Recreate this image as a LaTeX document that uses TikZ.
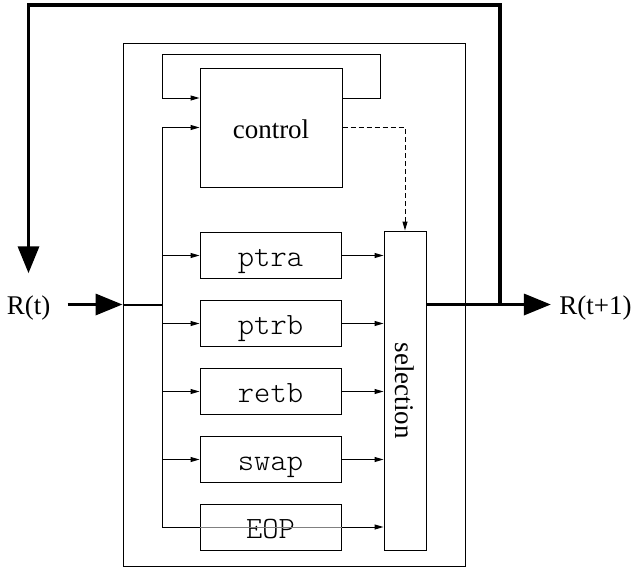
\documentclass[tikz,border=0pt]{standalone}
\usepackage{fontspec}
\setmainfont{Liberation Serif}
\setmonofont{Latin Modern Mono Light}
\usetikzlibrary{arrows.meta, positioning}

\begin{document}
\begin{tikzpicture}[x=1pt, y=-1pt, line width=1pt,
		every node/.style={font=\fontsize{27}{32}\selectfont},
		box/.style={draw, line width=1pt, inner sep=0pt},
		unit/.style={box, minimum width=141pt, minimum height=46pt, text height=22pt, text depth=0pt, font=\ttfamily\fontsize{31}{36}\selectfont},
		sarrow/.style={-{Triangle[length=9pt,width=5pt]}},
		big/.style={line width=3.5pt, -{Triangle[length=27pt,width=21pt]}}]
				\useasboundingbox (0,0) rectangle (637,570);

				\node[box, minimum width=342pt, minimum height=523pt] (outer) at (294,304.5) {};
				\node[box, minimum width=142pt, minimum height=119pt, text height=21pt, text depth=0pt] (ctrl) at (271,127.5) {control};

				\node[unit] (ptra) at (270.5,255.5) {ptra};
				\node[unit] (ptrb) at (270.5,323.5) {ptrb};
				\node[unit] (retb) at (270.5,391.5) {retb};
				\node[unit] (swap) at (270.5,459.5) {swap};
				\node[unit] (eop) at (270.5,527) {EOP};

				\node[box, minimum width=42pt, minimum height=319pt] (sel) at (405,390.5) {\rotatebox{-90}{selection}};

				\node[inner sep=0pt] (rt) at (28.5,308) {R(t)};
				\node[inner sep=0pt] (rt1) at (595.5,308) {R(t+1)};

				\coordinate (bus) at (162,304.5);
				\coordinate (loop) at (380,54);
				\coordinate (fb) at (500,304.5);
				\coordinate (top) at (0,5);

				% input and output
				\draw[big, shorten <=17pt] (rt.east |- outer.west) -- (outer.west);
				\draw[line width=2pt] (outer.west) -- (bus);
				\draw[big, shorten >=8pt] (sel.east |- outer.west) -- (rt1.west |- outer.west);
				\draw[big, shorten >=22pt] (fb) |- (rt.north |- top) -- (rt.north);

				% bus
				\draw (bus |- ctrl.west) -- (bus |- eop.west);
				\draw[sarrow] (bus |- ctrl.west) -- (ctrl.west);
				\draw[sarrow] ([yshift=29.5pt]ctrl.east) -| (loop) -| ([xshift=-37pt,yshift=29.5pt]ctrl.west) -- ([yshift=29.5pt]ctrl.west);
				\draw[sarrow, dash pattern=on 5pt off 3pt] (ctrl.east) -| (sel.north);

				\draw[sarrow] (bus |- ptra.west) -- (ptra.west);
				\draw[sarrow] (bus |- ptrb.west) -- (ptrb.west);
				\draw[sarrow] (bus |- retb.west) -- (retb.west);
				\draw[sarrow] (bus |- swap.west) -- (swap.west);
				\draw (bus |- eop.west) -- (eop.west);
				\draw[gray] (eop.west) -- (eop.east);

				\draw[sarrow] (ptra.east) -- (ptra.east -| sel.west);
				\draw[sarrow] (ptrb.east) -- (ptrb.east -| sel.west);
				\draw[sarrow] (retb.east) -- (retb.east -| sel.west);
				\draw[sarrow] (swap.east) -- (swap.east -| sel.west);
				\draw[sarrow] (eop.east) -- (eop.east -| sel.west);

\end{tikzpicture}
\end{document}
